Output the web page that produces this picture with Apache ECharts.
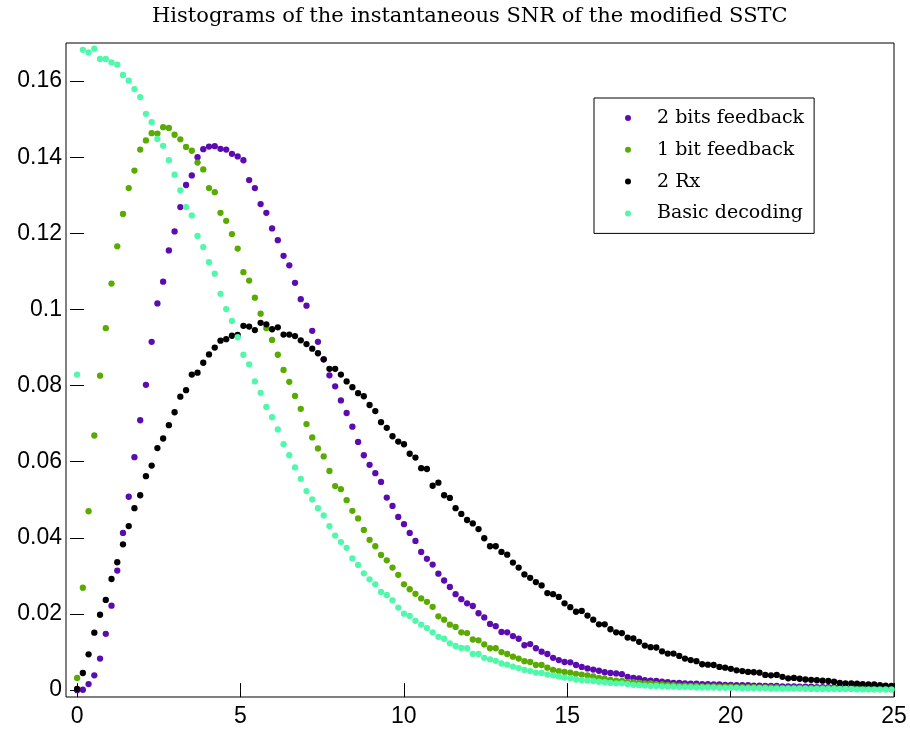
<!DOCTYPE html>
<html>
<head>
<meta charset="utf-8">
<script src="https://cdn.jsdelivr.net/npm/echarts@6/dist/echarts.min.js"></script>
<style>
  html, body { margin: 0; padding: 0; background: #fff; }
  #chart { width: 910px; height: 732px; }
</style>
</head>
<body>
<div id="chart"></div>
<script>
// Histogram bin width along the SNR axis (bin i sits at i * binWidth)
const binWidth = 0.1755;

const xTicks = [0, 5, 10, 15, 20, 25];
const yTicks = [0, 0.02, 0.04, 0.06, 0.08, 0.1, 0.12, 0.14, 0.16];

const seriesNames = ['2 bits feedback', '1 bit feedback', '2 Rx', 'Basic decoding'];

// Relative frequency per bin, 2 bits of feedback
const twoBitsFeedback = [
  0.0000, 0.0001, 0.0016, 0.0039, 0.0083, 0.0148, 0.0222, 0.0314, 0.0413, 0.0508,
  0.0612, 0.0709, 0.0802, 0.0915, 0.1016, 0.1073, 0.1155, 0.1205, 0.1269, 0.1327,
  0.1352, 0.1400, 0.1421, 0.1428, 0.1429, 0.1422, 0.1420, 0.1409, 0.1402, 0.1392,
  0.1340, 0.1319, 0.1277, 0.1254, 0.1213, 0.1182, 0.1141, 0.1116, 0.1070, 0.1027,
  0.1010, 0.0944, 0.0915, 0.0869, 0.0827, 0.0798, 0.0761, 0.0728, 0.0692, 0.0652,
  0.0617, 0.0592, 0.0570, 0.0547, 0.0506, 0.0484, 0.0455, 0.0436, 0.0413, 0.0392,
  0.0363, 0.0345, 0.0330, 0.0306, 0.0288, 0.0271, 0.0252, 0.0239, 0.0228, 0.0221,
  0.0202, 0.0191, 0.0174, 0.0168, 0.0153, 0.0152, 0.0142, 0.0135, 0.0118, 0.0121,
  0.0110, 0.0101, 0.0095, 0.0085, 0.0079, 0.0074, 0.0073, 0.0066, 0.0061, 0.0057,
  0.0054, 0.0051, 0.0047, 0.0045, 0.0044, 0.0042, 0.0035, 0.0032, 0.0031, 0.0026,
  0.0025, 0.0024, 0.0022, 0.0021, 0.0019, 0.0019, 0.0018, 0.0017, 0.0017, 0.0016,
  0.0016, 0.0015, 0.0015, 0.0014, 0.0014, 0.0013, 0.0013, 0.0013, 0.0012, 0.0012,
  0.0011, 0.0011, 0.0011, 0.0010, 0.0010, 0.0010, 0.0009, 0.0009, 0.0009, 0.0008,
  0.0008, 0.0008, 0.0008, 0.0007, 0.0007, 0.0007, 0.0007, 0.0006, 0.0006, 0.0006,
  0.0006, 0.0006, 0.0005
];

// Relative frequency per bin, 1 bit of feedback
const oneBitFeedback = [
  0.0032, 0.0269, 0.0470, 0.0669, 0.0826, 0.0951, 0.1068, 0.1166, 0.1251, 0.1319,
  0.1365, 0.1420, 0.1444, 0.1463, 0.1462, 0.1479, 0.1477, 0.1459, 0.1447, 0.1427,
  0.1417, 0.1386, 0.1368, 0.1319, 0.1308, 0.1254, 0.1233, 0.1198, 0.1160, 0.1098,
  0.1076, 0.1031, 0.0989, 0.0951, 0.0920, 0.0881, 0.0841, 0.0810, 0.0773, 0.0739,
  0.0699, 0.0664, 0.0635, 0.0614, 0.0576, 0.0536, 0.0528, 0.0499, 0.0471, 0.0451,
  0.0421, 0.0395, 0.0378, 0.0355, 0.0341, 0.0322, 0.0303, 0.0278, 0.0265, 0.0253,
  0.0241, 0.0232, 0.0219, 0.0194, 0.0185, 0.0172, 0.0166, 0.0152, 0.0150, 0.0133,
  0.0131, 0.0120, 0.0110, 0.0110, 0.0100, 0.0095, 0.0088, 0.0083, 0.0076, 0.0074,
  0.0066, 0.0066, 0.0059, 0.0053, 0.0050, 0.0048, 0.0046, 0.0043, 0.0041, 0.0039,
  0.0036, 0.0032, 0.0030, 0.0027, 0.0025, 0.0024, 0.0021, 0.0021, 0.0019, 0.0018,
  0.0018, 0.0016, 0.0015, 0.0014, 0.0013, 0.0012, 0.0012, 0.0011, 0.0011, 0.0010,
  0.0010, 0.0010, 0.0009, 0.0009, 0.0009, 0.0008, 0.0008, 0.0008, 0.0008, 0.0007,
  0.0007, 0.0007, 0.0007, 0.0006, 0.0006, 0.0006, 0.0006, 0.0005, 0.0005, 0.0005,
  0.0005, 0.0005, 0.0005, 0.0004, 0.0004, 0.0004, 0.0004, 0.0004, 0.0004, 0.0003,
  0.0003, 0.0003, 0.0003
];

// Relative frequency per bin, two receive antennas
const twoRx = [
  0.0003, 0.0045, 0.0094, 0.0151, 0.0198, 0.0237, 0.0292, 0.0336, 0.0383, 0.0431,
  0.0478, 0.0512, 0.0562, 0.0590, 0.0636, 0.0661, 0.0696, 0.0730, 0.0771, 0.0788,
  0.0829, 0.0834, 0.0860, 0.0882, 0.0900, 0.0918, 0.0922, 0.0931, 0.0933, 0.0957,
  0.0955, 0.0946, 0.0965, 0.0961, 0.0948, 0.0953, 0.0934, 0.0934, 0.0930, 0.0919,
  0.0909, 0.0897, 0.0885, 0.0869, 0.0844, 0.0844, 0.0829, 0.0811, 0.0796, 0.0780,
  0.0772, 0.0749, 0.0733, 0.0704, 0.0689, 0.0667, 0.0653, 0.0646, 0.0621, 0.0611,
  0.0583, 0.0581, 0.0537, 0.0545, 0.0512, 0.0505, 0.0478, 0.0463, 0.0447, 0.0438,
  0.0423, 0.0399, 0.0378, 0.0378, 0.0363, 0.0356, 0.0335, 0.0322, 0.0304, 0.0295,
  0.0284, 0.0275, 0.0255, 0.0252, 0.0245, 0.0228, 0.0218, 0.0206, 0.0208, 0.0196,
  0.0185, 0.0173, 0.0173, 0.0160, 0.0152, 0.0150, 0.0138, 0.0136, 0.0127, 0.0117,
  0.0113, 0.0112, 0.0102, 0.0096, 0.0096, 0.0090, 0.0083, 0.0079, 0.0076, 0.0068,
  0.0067, 0.0066, 0.0061, 0.0059, 0.0056, 0.0052, 0.0050, 0.0048, 0.0047, 0.0046,
  0.0040, 0.0039, 0.0040, 0.0035, 0.0031, 0.0032, 0.0030, 0.0028, 0.0027, 0.0026,
  0.0025, 0.0024, 0.0022, 0.0019, 0.0018, 0.0018, 0.0017, 0.0016, 0.0015, 0.0015,
  0.0013, 0.0012, 0.0011
];

// Relative frequency per bin, basic decoding
const basicDecoding = [
  0.0829, 0.1682, 0.1675, 0.1685, 0.1658, 0.1658, 0.1649, 0.1643, 0.1616, 0.1601,
  0.1579, 0.1558, 0.1514, 0.1492, 0.1448, 0.1430, 0.1392, 0.1354, 0.1313, 0.1269,
  0.1247, 0.1193, 0.1164, 0.1124, 0.1094, 0.1041, 0.1001, 0.0970, 0.0927, 0.0881,
  0.0856, 0.0811, 0.0781, 0.0744, 0.0717, 0.0685, 0.0646, 0.0617, 0.0585, 0.0555,
  0.0523, 0.0501, 0.0478, 0.0459, 0.0431, 0.0406, 0.0389, 0.0374, 0.0346, 0.0329,
  0.0307, 0.0291, 0.0278, 0.0258, 0.0250, 0.0236, 0.0217, 0.0201, 0.0195, 0.0182,
  0.0172, 0.0163, 0.0152, 0.0140, 0.0135, 0.0123, 0.0116, 0.0111, 0.0110, 0.0095,
  0.0095, 0.0085, 0.0081, 0.0077, 0.0070, 0.0067, 0.0062, 0.0058, 0.0053, 0.0050,
  0.0046, 0.0045, 0.0041, 0.0039, 0.0036, 0.0033, 0.0031, 0.0028, 0.0026, 0.0025,
  0.0024, 0.0022, 0.0021, 0.0019, 0.0018, 0.0018, 0.0016, 0.0014, 0.0013, 0.0012,
  0.0011, 0.0011, 0.0010, 0.0009, 0.0009, 0.0008, 0.0008, 0.0008, 0.0007, 0.0007,
  0.0007, 0.0007, 0.0006, 0.0006, 0.0006, 0.0006, 0.0005, 0.0005, 0.0005, 0.0005,
  0.0005, 0.0004, 0.0004, 0.0004, 0.0004, 0.0004, 0.0004, 0.0004, 0.0003, 0.0003,
  0.0003, 0.0003, 0.0003, 0.0003, 0.0003, 0.0003, 0.0002, 0.0002, 0.0002, 0.0002,
  0.0002, 0.0002, 0.0002
];

const seriesValues = [twoBitsFeedback, oneBitFeedback, twoRx, basicDecoding];
const seriesColors = ['#5b0bb0', '#5aab00', '#000000', '#50f8ab'];

const toPoints = values => values.map((v, i) => [i * binWidth, v]);

const X_MIN = -0.34, X_MAX = 25;
const Y_MIN = -0.0018, Y_MAX = 0.17;

const tickStyle = { color: '#000', width: 1 };
const labelFont = { fontFamily: 'Liberation Sans', fontSize: 23, color: '#000' };
const serif = 'DejaVu Serif';

function xAxisDef(position, withLabels) {
  return {
    type: 'value', min: X_MIN, max: X_MAX, position: position,
    axisLine: { show: false }, splitLine: { show: false },
    axisTick: { show: true, inside: true, length: 7, customValues: xTicks, lineStyle: tickStyle },
    axisLabel: withLabels
      ? Object.assign({ show: true, customValues: xTicks, margin: 8, formatter: v => String(v) }, labelFont)
      : { show: false }
  };
}

function yAxisDef(position, withLabels) {
  return {
    type: 'value', min: Y_MIN, max: Y_MAX, position: position,
    axisLine: { show: false }, splitLine: { show: false },
    axisTick: { show: true, inside: true, length: 7, customValues: yTicks, lineStyle: tickStyle },
    axisLabel: withLabels
      ? Object.assign({ show: true, customValues: yTicks, margin: 4,
          formatter: v => (Math.abs(v) < 1e-9 ? '0' : (Math.round(v * 100) / 100).toString()) }, labelFont)
      : { show: false }
  };
}

const chart = echarts.init(document.getElementById('chart'), null, { renderer: 'canvas' });

chart.setOption({
  animation: false,
  backgroundColor: '#fff',
  title: {
    text: 'Histograms of the instantaneous SNR of the modified SSTC',
    left: 147, top: 1,
    textStyle: { fontFamily: serif, fontWeight: 'normal', fontSize: 21, color: '#000' }
  },
  grid: {
    left: 66, right: 16, top: 43, bottom: 35,
    show: true, borderColor: '#000', borderWidth: 1, backgroundColor: '#fff'
  },
  xAxis: [xAxisDef('bottom', true), xAxisDef('top', false)],
  yAxis: [yAxisDef('left', true), yAxisDef('right', false)],
  legend: {
    orient: 'vertical', left: 594, top: 98,
    data: seriesNames,
    icon: 'circle', itemWidth: 6, itemHeight: 6, itemGap: 9.8,
    padding: [9, 10, 9, 31],
    borderColor: '#000', borderWidth: 1, backgroundColor: '#fff',
    selectedMode: false,
    textStyle: { fontFamily: serif, fontSize: 19, lineHeight: 22, color: '#000', padding: [0, 0, 0, 21] }
  },
  series: seriesNames.map((name, k) => ({
    name: name,
    type: 'scatter',
    xAxisIndex: 0, yAxisIndex: 0,
    symbol: 'circle', symbolSize: 6.3,
    itemStyle: { color: seriesColors[k], opacity: 1 },
    emphasis: { disabled: true },
    data: toPoints(seriesValues[k]),
    z: 2 + k
  }))
});
</script>
</body>
</html>
